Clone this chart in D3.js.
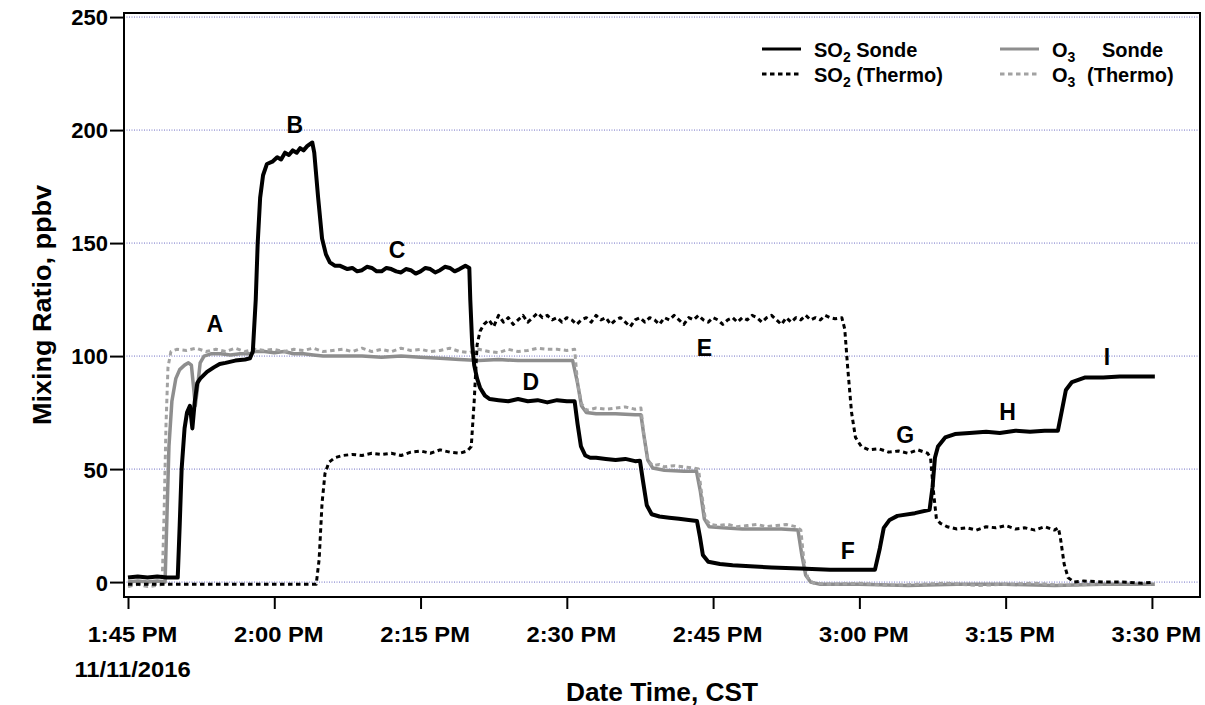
<!DOCTYPE html>
<html>
<head>
<meta charset="utf-8">
<script src="https://cdnjs.cloudflare.com/ajax/libs/d3/7.8.5/d3.min.js"></script>
<style>
    body { margin: 0; background: #fff; }
    svg text { font-family: "Liberation Sans", Arial, sans-serif; font-weight: bold; fill: #000; }
</style>
</head>
<body>
<svg id="chart" width="1205" height="705"></svg>
<script>
// Times are minutes after 1:45 PM on 11/11/2016, values are ppbv
var so2Sonde = [
    [0, 2], [1, 2.5], [2, 2], [3, 2.5], [4, 2], [5.1, 2], [5.3, 25], [5.5, 50], [5.8, 68], [6.05, 75],
    [6.35, 78], [6.6, 68], [6.85, 80], [7.1, 88], [7.4, 90], [8.1, 93], [8.8, 95], [9.4, 96.5], [10, 97],
    [11, 98], [12, 98.5], [12.5, 99], [12.8, 102], [13.1, 125], [13.3, 150], [13.55, 170], [13.85, 180],
    [14.25, 185], [14.8, 186], [15.3, 188], [15.7, 187], [16.1, 190], [16.5, 189], [16.9, 191], [17.3, 190],
    [17.65, 192], [18, 191], [18.4, 193], [18.9, 194.5], [19.1, 190], [19.5, 170], [19.9, 152], [20.3, 145],
    [20.7, 141.5], [21.2, 140], [21.7, 140], [22.5, 138.5], [23, 139], [23.5, 137.5], [24, 138], [24.5, 139.5],
    [25, 139], [25.5, 137.5], [26, 137.5], [26.5, 139], [27, 138.5], [27.5, 137.5], [28, 137], [28.5, 138.5],
    [29, 138], [29.5, 136.5], [30, 137.5], [30.5, 139], [31, 138.5], [31.5, 137], [32, 138], [32.5, 139.5],
    [33, 139], [33.5, 137.5], [34, 138.5], [34.6, 140], [35, 139], [35.1, 125], [35.3, 105], [35.5, 96],
    [35.8, 90], [36.1, 86], [36.6, 82.5], [37.1, 81], [38, 80.5], [39, 80], [40, 81], [41, 80], [42, 80.5],
    [43, 79.5], [44, 80.5], [45, 80], [45.8, 80], [46.1, 70], [46.45, 60], [46.9, 56], [47.4, 55], [48, 55],
    [49, 54.5], [50, 54], [51, 54.5], [52, 53.5], [52.5, 53.7], [52.8, 45], [53.2, 34], [53.7, 30],
    [54.5, 29], [55.5, 28.5], [56.5, 28], [57.5, 27.5], [58.35, 27], [58.65, 20], [58.95, 12], [59.5, 9],
    [60.7, 8], [62, 7.5], [63.8, 7], [66, 6.5], [68.9, 6], [72, 5.5], [76.6, 5.5], [77.1, 15], [77.5, 24],
    [78.1, 27.5], [78.9, 29.3], [80.7, 30.5], [82.2, 32], [82.5, 42], [82.75, 55], [83.06, 60], [83.8, 64],
    [84.8, 65.5], [86.3, 66], [88, 66.5], [89.4, 66], [91, 67], [92.5, 66.5], [94, 67], [95.36, 67],
    [95.77, 76], [96.18, 85], [96.8, 88.5], [98.1, 90.5], [100, 90.5], [101.7, 91], [103.5, 91], [105.3, 91]
];

var so2Thermo = [
    [0, -1], [2, -1], [4, -1], [6, -1], [8, -1], [10, -1], [12, -1], [14, -1], [16, -1], [18, -1],
    [19.3, -1], [19.6, 10], [19.9, 35], [20.2, 48], [20.6, 53], [21.2, 55], [22, 56], [23, 56.5], [24, 56],
    [25, 57], [26, 56.5], [27, 57], [28, 56], [29, 57.5], [30, 58], [31, 57], [32, 58.5], [33, 57.5],
    [34, 57], [34.8, 58], [35.2, 60], [35.5, 80], [35.8, 105], [36.1, 111], [36.5, 114], [37, 116],
    [37.5, 113], [38, 118], [38.5, 115], [39, 117], [39.5, 114], [40, 116], [40.5, 118], [41, 115],
    [41.5, 117], [42, 119], [42.5, 117], [43, 118], [43.5, 116], [44, 117], [44.5, 115], [45, 117],
    [45.5, 116], [46, 114], [46.5, 116], [47, 117], [47.5, 115], [48, 118], [48.5, 116], [49, 117],
    [49.5, 114], [50, 116], [50.5, 117], [51, 115], [51.5, 113], [52, 116], [52.5, 117], [53, 115],
    [53.5, 117], [54, 116], [54.5, 114], [55, 117], [55.5, 116], [56, 118], [56.5, 116], [57, 114],
    [57.5, 117], [58, 116], [58.5, 118], [59, 116], [59.5, 115], [60, 117], [60.5, 116], [61, 114],
    [61.5, 116], [62, 117], [62.5, 115], [63, 117], [63.5, 116], [64, 118], [64.5, 117], [65, 115],
    [65.5, 117], [66, 118], [66.5, 116], [67, 114], [67.5, 117], [68, 115], [68.5, 117], [69, 116],
    [69.5, 118], [70, 116], [70.5, 117], [71, 116], [71.5, 118], [72, 117], [72.5, 116.5], [73.2, 117],
    [73.5, 112], [73.8, 95], [74.2, 75], [74.6, 64], [75.2, 60], [76, 58.5], [77, 59], [78, 57.5],
    [79, 58], [80, 57], [81, 58.5], [82, 57], [82.3, 55], [82.6, 40], [82.9, 28], [83.3, 26], [84, 24.5],
    [85, 23.5], [86, 24], [87, 23], [88, 24.5], [89, 24], [90, 25], [91, 23.5], [92, 24], [93, 23],
    [94, 24.5], [95, 23], [95.4, 24], [95.6, 20], [96, 8], [96.4, 2], [97, 0], [98, 0.5], [100, 0],
    [102, 0], [104, -0.5], [105.2, 0]
];

var o3Sonde = [
    [0, 0], [1, 0.5], [2, 0], [3, 0.5], [3.8, 0], [4, 30], [4.2, 60], [4.5, 80], [4.9, 90], [5.3, 94],
    [5.8, 96], [6.2, 97], [6.5, 96], [6.75, 85], [6.9, 78], [7.1, 85], [7.4, 97], [7.8, 100], [8.5, 101],
    [9.5, 101], [10.5, 100.5], [11.5, 101], [12.5, 101], [13, 102], [14, 102], [15, 101.5], [16, 102],
    [17, 101], [18, 101], [19, 100.5], [20, 100], [22, 100], [24, 100], [26, 99.5], [28, 100], [30, 99.5],
    [32, 99], [34, 98.5], [36, 98], [38, 98.5], [40, 98], [42, 98], [44, 98], [45.6, 98], [46.1, 88],
    [46.5, 78], [47, 75], [48, 74.5], [50, 74.5], [52, 74], [52.6, 74], [52.9, 65], [53.3, 54],
    [53.8, 50.5], [55, 49.5], [57, 49], [58.3, 49], [58.7, 40], [59.1, 28], [59.6, 24.5], [61, 24],
    [63, 23.5], [65, 23.5], [67, 23.5], [68.7, 23], [69.1, 12], [69.5, 3], [70, 0], [71, -1], [75, -1],
    [80, -1.5], [85, -1], [90, -1], [95, -1.5], [100, -1], [105.3, -1]
];

var o3Thermo = [
    [0, -2], [1, -1], [2, -2], [3, -1.5], [3.5, -1], [3.7, 30], [3.9, 70], [4.1, 95], [4.4, 102], [5, 103],
    [6, 102.5], [7, 103.5], [8, 102], [9, 103], [10, 102], [11, 103.5], [12, 102], [13, 103], [14, 102.5],
    [15, 103], [16, 102], [17, 103], [18, 102.5], [19, 103.5], [20, 102], [21, 102.5], [22, 103], [23, 102],
    [24, 103.5], [25, 102], [26, 103], [27, 102], [28, 103.5], [29, 102.5], [30, 103], [31, 102],
    [32, 102.5], [33, 103.5], [34, 102], [35, 101.5], [36, 103], [37, 102], [38, 101.5], [39, 103],
    [40, 102], [41, 102.5], [42, 103.5], [43, 103], [44, 103], [45, 102.5], [45.8, 103], [46.1, 88],
    [46.5, 79], [47, 76], [48, 77], [49, 76.5], [50, 77], [51, 77.5], [52, 76.5], [52.6, 77], [52.9, 65],
    [53.3, 54], [53.8, 51.5], [54.5, 52], [55, 51], [56, 51.5], [57, 51], [58, 50.5], [58.5, 50],
    [58.8, 40], [59.2, 28], [59.7, 25.5], [60.5, 25], [61.5, 25.5], [62.5, 24.5], [63.5, 25], [64.5, 25.5],
    [65.5, 24.5], [66.5, 25], [67.5, 25.5], [68.5, 24.5], [69, 23], [69.3, 10], [69.7, 2], [70.3, -0.5],
    [72, -1], [75, -0.5], [78, -1.5], [81, -1], [84, -0.5], [87, -1.5], [90, -1], [93, -0.5], [96, -1.5],
    [99, -1], [102, -0.5], [105.3, -1]
];

var yTicks = [0, 50, 100, 150, 200, 250];
var xTickMinutes = [0, 15, 30, 45, 60, 75, 90, 105];

// Letter annotations (minute, value)
var noteLabels = ['A', 'B', 'C', 'D', 'E', 'F', 'G', 'H', 'I'];
var noteMinutes = [8.9, 17.1, 27.6, 41.3, 59.1, 73.8, 79.7, 90.2, 100.4];
var noteValues = [110.6, 198.7, 143.4, 85, 100, 10.2, 61.5, 71.7, 96];

var MARGIN = { left: 124, top: 13, right: 5, bottom: 108 },
    WIDTH = 1205 - MARGIN.left - MARGIN.right,
    HEIGHT = 705 - MARGIN.top - MARGIN.bottom,
    BLACK = '#000',
    GRAY = '#8e8e8e',
    LIGHT_GRAY = '#a2a2a2',
    DASH = '4.5,3.5';

var base = new Date(2016, 10, 11, 13, 45);
function toDate(m) { return new Date(base.getTime() + m * 60000); }

var svg = d3.select('#chart');
var g = svg.append('g').attr('transform', 'translate(' + MARGIN.left + ',' + MARGIN.top + ')');

var x = d3.scaleTime().domain([toDate(-0.41), toDate(109.93)]).range([0, WIDTH]);
var y = d3.scaleLinear().domain([-6.6, 251.8]).range([HEIGHT, 0]);

// Dotted blue grid lines
g.selectAll('line.grid')
    .data(yTicks)
    .enter()
    .append('line')
    .attr('x1', 0)
    .attr('x2', WIDTH)
    .attr('y1', function(d) { return y(d); })
    .attr('y2', function(d) { return y(d); })
    .attr('stroke', '#6f6fc4')
    .attr('stroke-width', 1)
    .attr('stroke-dasharray', '1,1.5');

var line = d3.line()
    .x(function(d) { return x(toDate(d[0])); })
    .y(function(d) { return y(d[1]); });

var series = [
    { data: o3Sonde, color: GRAY, width: 3.5, dash: null },
    { data: o3Thermo, color: LIGHT_GRAY, width: 3, dash: DASH },
    { data: so2Sonde, color: BLACK, width: 4, dash: null },
    { data: so2Thermo, color: BLACK, width: 3, dash: DASH }
];

series.forEach(function(s) {
    g.append('path')
        .datum(s.data)
        .attr('d', line)
        .attr('fill', 'none')
        .attr('stroke', s.color)
        .attr('stroke-width', s.width)
        .attr('stroke-linejoin', 'round')
        .attr('stroke-dasharray', s.dash);
});

// Letter labels
g.selectAll('text.note')
    .data(noteLabels)
    .enter()
    .append('text')
    .attr('x', function(d, i) { return x(toDate(noteMinutes[i])); })
    .attr('y', function(d, i) { return y(noteValues[i]); })
    .attr('text-anchor', 'middle')
    .attr('font-size', 23)
    .text(function(d) { return d; });

// Frame
g.append('rect')
    .attr('width', WIDTH)
    .attr('height', HEIGHT)
    .attr('fill', 'none')
    .attr('stroke', BLACK)
    .attr('stroke-width', 2);

// Axes
var yAxis = g.append('g')
    .call(d3.axisLeft(y).tickValues(yTicks).tickSize(14).tickPadding(2));
yAxis.select('.domain').remove();
yAxis.selectAll('line').attr('stroke-width', 2);
yAxis.selectAll('text')
    .attr('font-size', 22)
    .attr('dy', '0.36em');

var fmt = d3.timeFormat('%-I:%M %p');
var xAxis = g.append('g')
    .attr('transform', 'translate(0,' + HEIGHT + ')')
    .call(d3.axisBottom(x).tickValues(xTickMinutes.map(toDate)).tickSize(12).tickPadding(17).tickFormat(fmt));
xAxis.select('.domain').remove();
xAxis.selectAll('line').attr('stroke-width', 2);
xAxis.selectAll('text')
    .attr('font-size', 22)
    .attr('transform', 'translate(4,0) scale(1.08,1)');
xAxis.select('.tick text')
    .append('tspan')
    .attr('x', 0)
    .attr('dy', '1.6em')
    .text(d3.timeFormat('%m/%d/%Y')(base));

svg.selectAll('g').attr('font-family', null);

// Axis titles
svg.append('text')
    .attr('transform', 'translate(' + (MARGIN.left + WIDTH / 2) + ',701) scale(1.05,1)')
    .attr('text-anchor', 'middle')
    .attr('font-size', 25)
    .text('Date Time, CST');

svg.append('text')
    .attr('transform', 'translate(51,' + (MARGIN.top + HEIGHT / 2) + ') rotate(-90) scale(1.08,1)')
    .attr('text-anchor', 'middle')
    .attr('font-size', 25)
    .text('Mixing Ratio, ppbv');

// Legend
var legend = svg.append('g').attr('font-size', 20);
var legendItems = [
    { x: 762, y: 49, color: BLACK, dash: null, name: 'SO', sub: '2', rest: ' Sonde' },
    { x: 762, y: 74, color: BLACK, dash: DASH, name: 'SO', sub: '2', rest: ' (Thermo)' },
    { x: 1000, y: 49, color: GRAY, dash: null, name: 'O', sub: '3', rest: null, tail: 'Sonde', tailX: 1102 },
    { x: 1000, y: 74, color: LIGHT_GRAY, dash: DASH, name: 'O', sub: '3', rest: null, tail: '(Thermo)', tailX: 1087 }
];

legendItems.forEach(function(d) {
    legend.append('line')
        .attr('x1', d.x)
        .attr('x2', d.x + 39)
        .attr('y1', d.y)
        .attr('y2', d.y)
        .attr('stroke', d.color)
        .attr('stroke-width', 3)
        .attr('stroke-dasharray', d.dash);

    var t = legend.append('text')
        .attr('x', d.x + 52)
        .attr('y', d.y + 8);
    t.append('tspan').text(d.name);
    t.append('tspan').attr('font-size', 14).attr('dy', 5).text(d.sub);
    if (d.rest) {
        t.append('tspan').attr('dy', -5).text(d.rest);
    }
    if (d.tail) {
        legend.append('text')
            .attr('x', d.tailX)
            .attr('y', d.y + 8)
            .text(d.tail);
    }
});
</script>
</body>
</html>
